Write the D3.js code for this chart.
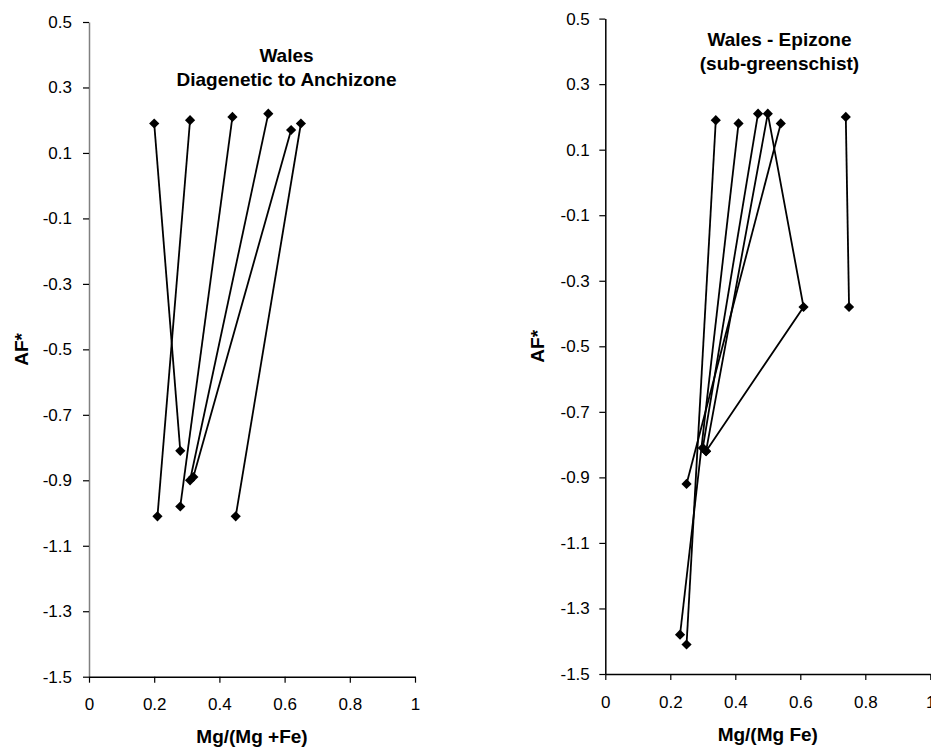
<!DOCTYPE html>
<html>
<head>
<meta charset="utf-8">
<script src="https://cdn.jsdelivr.net/npm/d3@7/dist/d3.min.js"></script>
<style>
  html, body { margin: 0; padding: 0; background: #fff; }
  svg { display: block; font-family: "Liberation Sans", Arial, sans-serif; }
</style>
</head>
<body>
<svg id="chart" width="931" height="751"></svg>
<script>
// ---------- data ----------
const xTickValues = [0, 0.2, 0.4, 0.6, 0.8, 1];
const xTickLabels = ["0", "0.2", "0.4", "0.6", "0.8", "1"];
const yTickValues = [0.5, 0.3, 0.1, -0.1, -0.3, -0.5, -0.7, -0.9, -1.1, -1.3, -1.5];
const yTickLabels = ["0.5", "0.3", "0.1", "-0.1", "-0.3", "-0.5", "-0.7", "-0.9", "-1.1", "-1.3", "-1.5"];

// Left panel: Wales, Diagenetic to Anchizone (each series = one tie line)
const diaX = [[0.20, 0.28], [0.31, 0.21], [0.44, 0.28], [0.55, 0.31], [0.62, 0.32], [0.65, 0.45]];
const diaY = [[0.19, -0.81], [0.20, -1.01], [0.21, -0.98], [0.22, -0.90], [0.17, -0.89], [0.19, -1.01]];

// Right panel: Wales - Epizone (sub-greenschist)
const epiX = [[0.34, 0.25], [0.41, 0.23], [0.47, 0.30], [0.31, 0.50, 0.61, 0.31], [0.54, 0.25], [0.74, 0.75]];
const epiY = [[0.19, -1.41], [0.18, -1.38], [0.21, -0.81], [-0.82, 0.21, -0.38, -0.82], [0.18, -0.92], [0.20, -0.38]];

const panels = [
  { xs: diaX, ys: diaY, x0: 89, x1: 415, y0: 22, y1: 676.7,
    title: ["Wales", "Diagenetic to Anchizone"], titleX: 286.5, titleY: [61.7, 85.5],
    xTitle: "Mg/(Mg +Fe)", xTitleY: 743, yTitleX: 28, yAxisColor: "#808080",
    yPad: 11, xPad: 15.5 },
  { xs: epiX, ys: epiY, x0: 605.3, x1: 930.3, y0: 18.6, y1: 674,
    title: ["Wales - Epizone", "(sub-greenschist)"], titleX: 779.5, titleY: [45.7, 70.2],
    xTitle: "Mg/(Mg Fe)", xTitleY: 741, yTitleX: 544, yAxisColor: "#000",
    yPad: 9.5, xPad: 16 }
];

const svg = d3.select("#chart");
const FONT = 17, TITLE_FONT = 19;

panels.forEach(p => {
  const x = d3.scaleLinear().domain([0, 1]).range([p.x0, p.x1]);
  const y = d3.scaleLinear().domain([-1.5, 0.5]).range([p.y1, p.y0]);

  // y axis
  const gy = svg.append("g").attr("transform", `translate(${p.x0},0)`)
    .call(d3.axisLeft(y).tickValues(yTickValues)
      .tickFormat((d, i) => yTickLabels[i]).tickSize(6).tickSizeOuter(0).tickPadding(p.yPad));
  gy.select(".domain").attr("stroke", p.yAxisColor).attr("stroke-width", 1.5);
  gy.selectAll(".tick line").attr("stroke", "#000").attr("stroke-width", 1.2);
  gy.selectAll(".tick text").attr("font-size", FONT).attr("fill", "#000")
    .attr("font-family", "'Liberation Sans', Arial, sans-serif");

  // x axis
  const gx = svg.append("g").attr("transform", `translate(0,${p.y1})`)
    .call(d3.axisBottom(x).tickValues(xTickValues)
      .tickFormat((d, i) => xTickLabels[i]).tickSize(6).tickSizeOuter(0).tickPadding(p.xPad));
  gx.select(".domain").attr("stroke", "#000").attr("stroke-width", 1.5);
  gx.selectAll(".tick line").attr("stroke", "#000").attr("stroke-width", 1.2);
  gx.selectAll(".tick text").attr("font-size", FONT).attr("fill", "#000")
    .attr("font-family", "'Liberation Sans', Arial, sans-serif");

  // series lines + markers
  const series = p.xs.map((xs, i) => xs.map((v, j) => [v, p.ys[i][j]]));
  const line = d3.line().x(d => x(d[0])).y(d => y(d[1]));
  svg.append("g").selectAll("path").data(series).join("path")
    .attr("d", line).attr("fill", "none").attr("stroke", "#000").attr("stroke-width", 1.8);

  const sym = d3.symbol().type(d3.symbolSquare).size(52);
  svg.append("g").selectAll("path")
    .data(series.flat()).join("path")
    .attr("d", sym)
    .attr("transform", d => `translate(${x(d[0])},${y(d[1])}) rotate(45)`)
    .attr("fill", "#000");

  // title
  p.title.forEach((t, i) => {
    svg.append("text").attr("x", p.titleX).attr("y", p.titleY[i])
      .attr("text-anchor", "middle").attr("font-size", TITLE_FONT).attr("font-weight", "bold")
      .text(t);
  });

  // axis titles
  svg.append("text").attr("x", (p.x0 + p.x1) / 2).attr("y", p.xTitleY)
    .attr("text-anchor", "middle").attr("font-size", TITLE_FONT).attr("font-weight", "bold")
    .text(p.xTitle);
  svg.append("text")
    .attr("transform", `translate(${p.yTitleX},${(p.y0 + p.y1) / 2}) rotate(-90)`)
    .attr("text-anchor", "middle").attr("font-size", TITLE_FONT).attr("font-weight", "bold")
    .text("AF*");
});
</script>
</body>
</html>
